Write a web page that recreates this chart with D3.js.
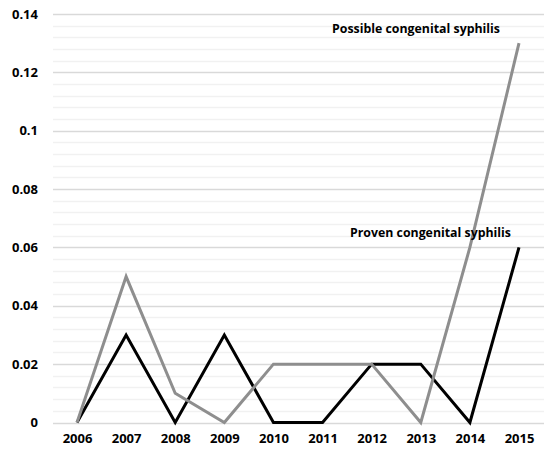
<!DOCTYPE html>
<html><head><meta charset="utf-8">
<script src="https://cdn.jsdelivr.net/npm/d3@7"></script>
<style>
html,body{margin:0;padding:0;background:#fff;}
svg text{font-family:"Open Sans",Lato,sans-serif;font-weight:bold;fill:#000;}
</style></head>
<body><svg id="c" width="544" height="455"></svg>
<script>
const years = ["2006","2007","2008","2009","2010","2011","2012","2013","2014","2015"];
const proven = [0,0.03,0,0.03,0,0,0.02,0.02,0,0.06];
const possible = [0,0.05,0.01,0,0.02,0.02,0.02,0,0.06,0.13];
const yTicks = [0,0.02,0.04,0.06,0.08,0.1,0.12,0.14];
const yTickLabels = ["0","0.02","0.04","0.06","0.08","0.1","0.12","0.14"];
const seriesNames = ["Proven congenital syphilis","Possible congenital syphilis"];

const svg = d3.select("#c");
const x = d3.scalePoint().domain(years).range([77,519]);
const y = d3.scaleLinear().domain([0,0.14]).range([422.5,14]);

// minor gridlines
const minor = d3.range(0,0.1401,0.004).filter(v=>Math.abs(Math.round(v/0.02)*0.02 - v) > 1e-6);
svg.append("g").selectAll("line").data(minor).join("line")
  .attr("x1",53).attr("x2",544)
  .attr("y1",d=>Math.round(y(d))+0.5).attr("y2",d=>Math.round(y(d))+0.5)
  .attr("stroke","#f1f1f1").attr("stroke-width",1.3);
// major gridlines
svg.append("g").selectAll("line").data(yTicks).join("line")
  .attr("x1",53).attr("x2",544)
  .attr("y1",d=>Math.round(y(d))+0.5).attr("y2",d=>Math.round(y(d))+0.5)
  .attr("stroke","#d9d9d9").attr("stroke-width",1.3);

const FONT = "'Open Sans', Lato, sans-serif";
// y axis labels
const yAxis = d3.axisLeft(y).tickValues(yTicks).tickSize(0).tickPadding(0)
  .tickFormat((d,i)=>yTickLabels[i]);
const gy = svg.append("g").attr("transform","translate(38,0)").call(yAxis);
gy.select(".domain").remove();
gy.selectAll("text").attr("font-size",13).attr("font-family",FONT).attr("font-weight","bold").attr("fill","#000");

// x axis labels
const xAxis = d3.axisBottom(x).tickSize(0).tickPadding(0);
const gx = svg.append("g").attr("transform","translate(0,434)").call(xAxis);
gx.select(".domain").remove();
gx.selectAll("text").attr("font-size",13).attr("font-family",FONT).attr("font-weight","bold").attr("fill","#000");

const line = d3.line().x((d,i)=>x(years[i])).y(d=>y(d));
svg.append("path").datum(proven).attr("d",line).attr("fill","none")
  .attr("stroke","#000").attr("stroke-width",3).attr("stroke-linejoin","miter");
svg.append("path").datum(possible).attr("d",line).attr("fill","none")
  .attr("stroke","#8e8e8e").attr("stroke-width",3).attr("stroke-linejoin","miter");

svg.append("text").attr("x",332).attr("y",33)
  .attr("font-size",11.5).attr("textLength",168).attr("lengthAdjust","spacingAndGlyphs").text(seriesNames[1]);
svg.append("text").attr("x",350).attr("y",237)
  .attr("font-size",11.5).attr("textLength",161).attr("lengthAdjust","spacingAndGlyphs").text(seriesNames[0]);
</script></body></html>
